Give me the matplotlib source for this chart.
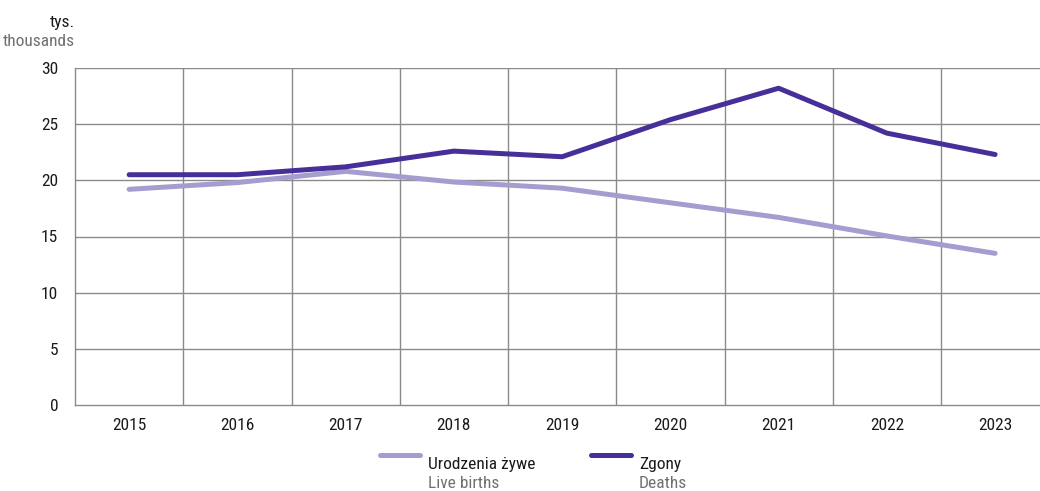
import matplotlib
matplotlib.use("Agg")
import matplotlib.pyplot as plt
from matplotlib.lines import Line2D
from matplotlib import font_manager as fm

years = ["2015", "2016", "2017", "2018", "2019", "2020", "2021", "2022", "2023"]
live_births = [19.2, 19.8, 20.8, 19.85, 19.3, 18.0, 16.7, 15.05, 13.5]
deaths = [20.5, 20.5, 21.2, 22.6, 22.1, 25.4, 28.2, 24.2, 22.3]
yticks = [0, 5, 10, 15, 20, 25, 30]

installed = {f.name for f in fm.fontManager.ttflist}
FONT = [f for f in ["Roboto Condensed", "Liberation Sans Narrow", "Open Sans Condensed",
                    "Liberation Sans", "DejaVu Sans"] if f in installed]
plt.rcParams["font.family"] = FONT
FS = 12.5

C_LIGHT = "#a59ccf"
C_DARK = "#472f99"
GRID = "#8a8a8a"
LW = 3.6

fig = plt.figure(figsize=(10.4, 4.91), dpi=100)
W, H = 1040, 491
x0, x1 = 75, 1040
ytop, ybot = 68, 405
ax = fig.add_axes([x0 / W, 1 - ybot / H, (x1 - x0) / W, (ybot - ytop) / H])

band = 108.25
xs = list(range(len(years)))
ax.plot(xs, live_births, color=C_LIGHT, lw=LW, solid_capstyle="round", zorder=3)
ax.plot(xs, deaths, color=C_DARK, lw=LW, solid_capstyle="round", zorder=4)

ax.set_xlim(-0.5, -0.5 + (x1 - x0) / band)
ax.set_ylim(0, 30)
ax.set_yticks(yticks)
ax.set_yticklabels([str(v) for v in yticks], fontsize=FS, color="#1a1a1a")
ax.set_xticks(xs)
ax.set_xticklabels(years, fontsize=FS, color="#1a1a1a")
ax.tick_params(axis="both", length=0)
ax.tick_params(axis="y", pad=12)
ax.tick_params(axis="x", pad=9)

for v in yticks[1:]:
    ax.axhline(v, color=GRID, lw=1, zorder=1)
for i in range(len(years)):
    ax.axvline(i + 0.5, color=GRID, lw=1, zorder=1)

for s in ["top", "right"]:
    ax.spines[s].set_visible(False)
for s in ["left", "bottom"]:
    ax.spines[s].set_color(GRID)
    ax.spines[s].set_linewidth(1)

fig.text(75 / W, 1 - 22 / H, "tys.", ha="right", va="center", fontsize=FS, color="#1a1a1a")
fig.text(75 / W, 1 - 42 / H, "thousands", ha="right", va="center", fontsize=FS, color="#707070")

# legend
def legend_item(xl, label, sub, color):
    fig.add_artist(Line2D([xl / W, (xl + 40) / W], [1 - 455 / H, 1 - 455 / H],
                          color=color, lw=LW, solid_capstyle="round"))
    fig.text((xl + 48) / W, 1 - 465 / H, label, ha="left", va="center", fontsize=FS, color="#1a1a1a")
    fig.text((xl + 48) / W, 1 - 484 / H, sub, ha="left", va="center", fontsize=FS, color="#707070")

legend_item(380, "Urodzenia żywe", "Live births", C_LIGHT)
legend_item(591, "Zgony", "Deaths", C_DARK)

fig.savefig("out.png", dpi=100)
